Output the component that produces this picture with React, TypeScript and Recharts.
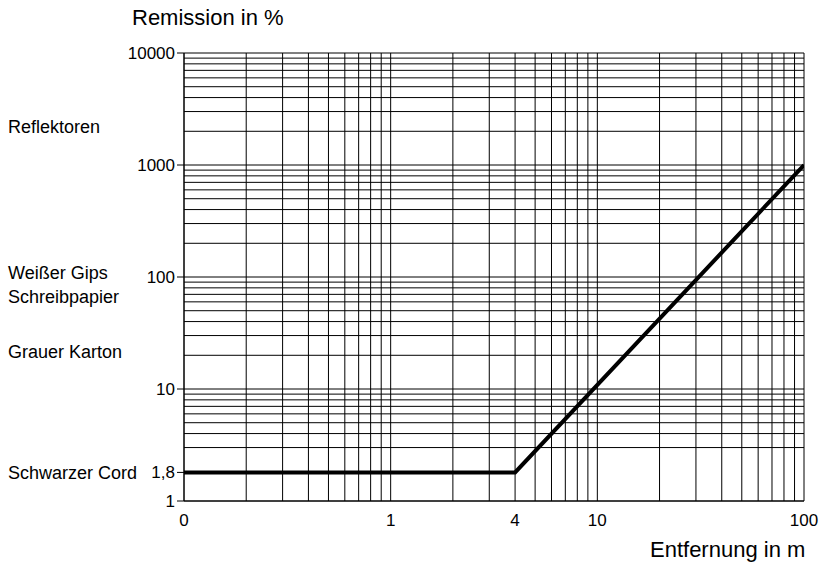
import React from 'react'
import { LineChart, Line, XAxis, YAxis, ReferenceLine } from 'recharts'

const FONT = '"Liberation Sans", Arial, Helvetica, sans-serif'

// distance in m vs. remission in % (log/log)
const distance = [0.1, 4, 100]
const remission = [1.8, 1.8, 1000]

const xTicks = [0.1, 1, 4, 10, 100]
const xTickLabels: Record<string, string> = { '0.1': '0', '1': '1', '4': '4', '10': '10', '100': '100' }
const yTicks = [1, 1.8, 10, 100, 1000, 10000]
const yTickLabels: Record<string, string> = { '1': '1', '1.8': '1,8', '10': '10', '100': '100', '1000': '1000', '10000': '10000' }

const materials = ['Reflektoren', 'Weißer Gips', 'Schreibpapier', 'Grauer Karton', 'Schwarzer Cord']
const materialValues = [2200, 110, 67, 21.5, 1.8]

// log paper grid
const mantissas = [1, 2, 3, 4, 5, 6, 7, 8, 9]
const xDecades = [0.1, 1, 10]
const yDecades = [1, 10, 100, 1000]
const xGrid = [...xDecades.flatMap(d => mantissas.map(m => +(m * d).toPrecision(3))), 100]
// the 2-line of the lowest decade is left out on the original sheet
const yGrid = [...yDecades.flatMap(d => mantissas.map(m => m * d)), 10000].filter(v => v !== 2)

const data = distance.map((x, i) => ({ x, y: remission[i] }))

export default function App() {
  return (
    <div style={{ position: 'fixed', left: 0, top: 0, width: 819, height: 563, fontFamily: FONT, background: '#fff' }}>
      <div style={{ position: 'absolute', left: 132, top: 5, fontSize: 22, lineHeight: '26px', color: '#000', whiteSpace: 'nowrap' }}>
        Remission in %
      </div>
      <div style={{ position: 'absolute', left: 650, top: 537, fontSize: 22, lineHeight: '26px', color: '#000', whiteSpace: 'nowrap' }}>
        Entfernung in m
      </div>
      <LineChart width={819} height={563} data={data} margin={{ top: 53, right: 15, bottom: 22, left: 0 }}>
        {xGrid.map(v => (
          <ReferenceLine key={'vx' + v} x={v} stroke="#000" strokeWidth={1} ifOverflow="extendDomain" />
        ))}
        {yGrid.map(v => (
          <ReferenceLine key={'hy' + v} y={v} stroke="#000" strokeWidth={1} ifOverflow="extendDomain" />
        ))}
        {materials.map((name, i) => (
          <ReferenceLine
            key={name}
            y={materialValues[i]}
            stroke="none"
            label={(p: any) => (
              <text x={8} y={p.viewBox.y} dy="0.35em" fontSize={18} fontFamily={FONT} fill="#000">
                {name}
              </text>
            )}
          />
        ))}
        <XAxis
          dataKey="x"
          type="number"
          scale="log"
          domain={[0.1, 100]}
          ticks={xTicks}
          interval={0}
          tickFormatter={(v: number) => xTickLabels[String(v)] ?? ''}
          tick={{ fill: '#000', fontSize: 17, fontFamily: FONT }}
          tickLine={false}
          tickSize={6}
          tickMargin={7}
          axisLine={{ stroke: '#000' }}
          height={40}
          allowDataOverflow
        />
        <YAxis
          type="number"
          scale="log"
          domain={[1, 10000]}
          ticks={yTicks}
          interval={0}
          tickFormatter={(v: number) => yTickLabels[String(v)] ?? ''}
          tick={{ fill: '#000', fontSize: 17, fontFamily: FONT }}
          tickLine={{ stroke: '#000' }}
          tickSize={7}
          tickMargin={2}
          axisLine={{ stroke: '#000' }}
          width={184}
          allowDataOverflow
        />
        <Line
          dataKey="y"
          type="linear"
          stroke="#000"
          strokeWidth={4}
          dot={false}
          isAnimationActive={false}
        />
      </LineChart>
    </div>
  )
}
